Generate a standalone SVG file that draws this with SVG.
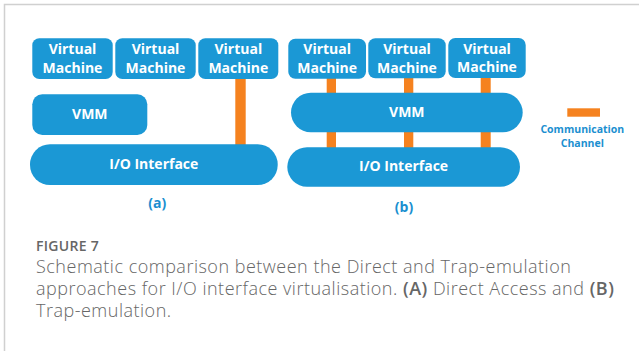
<svg xmlns="http://www.w3.org/2000/svg" width="639" height="351" viewBox="0 0 639 351">
  <style>
    .box { fill: #1b98d5; }
    .lbl { font-family: "Open Sans", "Noto Sans", sans-serif; font-weight: 700; font-size: 14px; fill: #ffffff; text-anchor: middle; }
    .chan { fill: #f5821f; }
    .sub { font-family: "Open Sans", "Noto Sans", sans-serif; font-weight: 700; font-size: 14px; fill: #1b8fd0; text-anchor: middle; }
    .leg { font-family: "Open Sans", "Noto Sans", sans-serif; font-weight: 700; font-size: 10.5px; fill: #1b8fd0; text-anchor: middle; }
    .cap { font-family: "Open Sans", "Noto Sans", sans-serif; font-weight: 300; font-size: 18px; letter-spacing: 0.5px; fill: #666666; }
    .fig { font-family: "Open Sans", "Noto Sans", sans-serif; font-weight: 600; font-size: 14px; letter-spacing: 0.3px; fill: #666666; }
  </style>
  <rect width="639" height="351" fill="#ffffff"/>
  <!-- frame -->
  <path d="M4.5 351 V4.5 H639" fill="none" stroke="#d0d0d0" stroke-width="1.5"/>

  <!-- connectors -->
  <g id="connectors">
    <rect class="chan" x="235.3" y="78" width="10.4" height="67"/>
    <rect class="chan" x="326.7" y="77" width="9.3" height="17"/>
    <rect class="chan" x="404" y="77" width="9.3" height="17"/>
    <rect class="chan" x="480.7" y="77" width="10" height="17"/>
    <rect class="chan" x="326.7" y="131" width="9.3" height="17"/>
    <rect class="chan" x="404" y="131" width="9.3" height="17"/>
    <rect class="chan" x="480.7" y="131" width="10" height="17"/>
  </g>

  <!-- (a) direct access -->
  <g id="a-vm1">
    <rect class="box" x="32.3" y="38.3" width="80.4" height="40.7" rx="7"/>
    <text class="lbl" x="72.5" y="54">Virtual</text>
    <text class="lbl" x="72.5" y="72.7">Machine</text>
  </g>
  <g id="a-vm2">
    <rect class="box" x="115.3" y="38.3" width="80.4" height="40.7" rx="7"/>
    <text class="lbl" x="155.5" y="54">Virtual</text>
    <text class="lbl" x="155.5" y="72.7">Machine</text>
  </g>
  <g id="a-vm3">
    <rect class="box" x="198.3" y="38.3" width="80" height="40.7" rx="7"/>
    <text class="lbl" x="238.3" y="54">Virtual</text>
    <text class="lbl" x="238.3" y="72.7">Machine</text>
  </g>
  <g id="a-vmm">
    <rect class="box" x="32.3" y="94.3" width="115" height="40.7" rx="10"/>
    <text class="lbl" x="89.8" y="119.3">VMM</text>
  </g>
  <g id="a-io">
    <rect class="box" x="30" y="144.3" width="247.7" height="40.7" rx="20"/>
    <text class="lbl" x="153.8" y="169.3">I/O Interface</text>
  </g>
  <text class="sub" x="157.3" y="208">(a)</text>

  <!-- (b) trap-emulation -->
  <g id="b-vm1">
    <rect class="box" x="288.3" y="38.7" width="77.7" height="40" rx="7"/>
    <text class="lbl" x="327.2" y="54">Virtual</text>
    <text class="lbl" x="327.2" y="72.7">Machine</text>
  </g>
  <g id="b-vm2">
    <rect class="box" x="368.3" y="38.3" width="77.4" height="40" rx="7"/>
    <text class="lbl" x="407" y="54">Virtual</text>
    <text class="lbl" x="407" y="72.7">Machine</text>
  </g>
  <g id="b-vm3">
    <rect class="box" x="448.3" y="38" width="77.4" height="40" rx="7"/>
    <text class="lbl" x="487" y="53.5">Virtual</text>
    <text class="lbl" x="487" y="72">Machine</text>
  </g>
  <g id="b-vmm">
    <rect class="box" x="291" y="92.7" width="231.7" height="39.6" rx="19.8"/>
    <text class="lbl" x="406.8" y="116.7">VMM</text>
  </g>
  <g id="b-io">
    <rect class="box" x="287.3" y="147.3" width="232.7" height="39.4" rx="19.7"/>
    <text class="lbl" x="403.6" y="171">I/O Interface</text>
  </g>
  <text class="sub" x="404" y="212">(b)</text>

  <!-- legend -->
  <g id="legend">
    <rect class="chan" x="567.3" y="108.3" width="32.7" height="8.4"/>
    <text class="leg" x="582.3" y="132.7">Communication</text>
    <text class="leg" x="582.3" y="147.3">Channel</text>
  </g>

  <!-- caption -->
  <text class="fig" x="36" y="251">FIGURE 7</text>
  <text class="cap" x="36" y="273.3">Schematic comparison between the Direct and Trap-emulation</text>
  <text class="cap" x="36" y="295">approaches for I/O interface virtualisation. <tspan font-weight="600">(A)</tspan> Direct Access and <tspan font-weight="600">(B)</tspan></text>
  <text class="cap" x="36" y="316.7">Trap-emulation.</text>
</svg>
